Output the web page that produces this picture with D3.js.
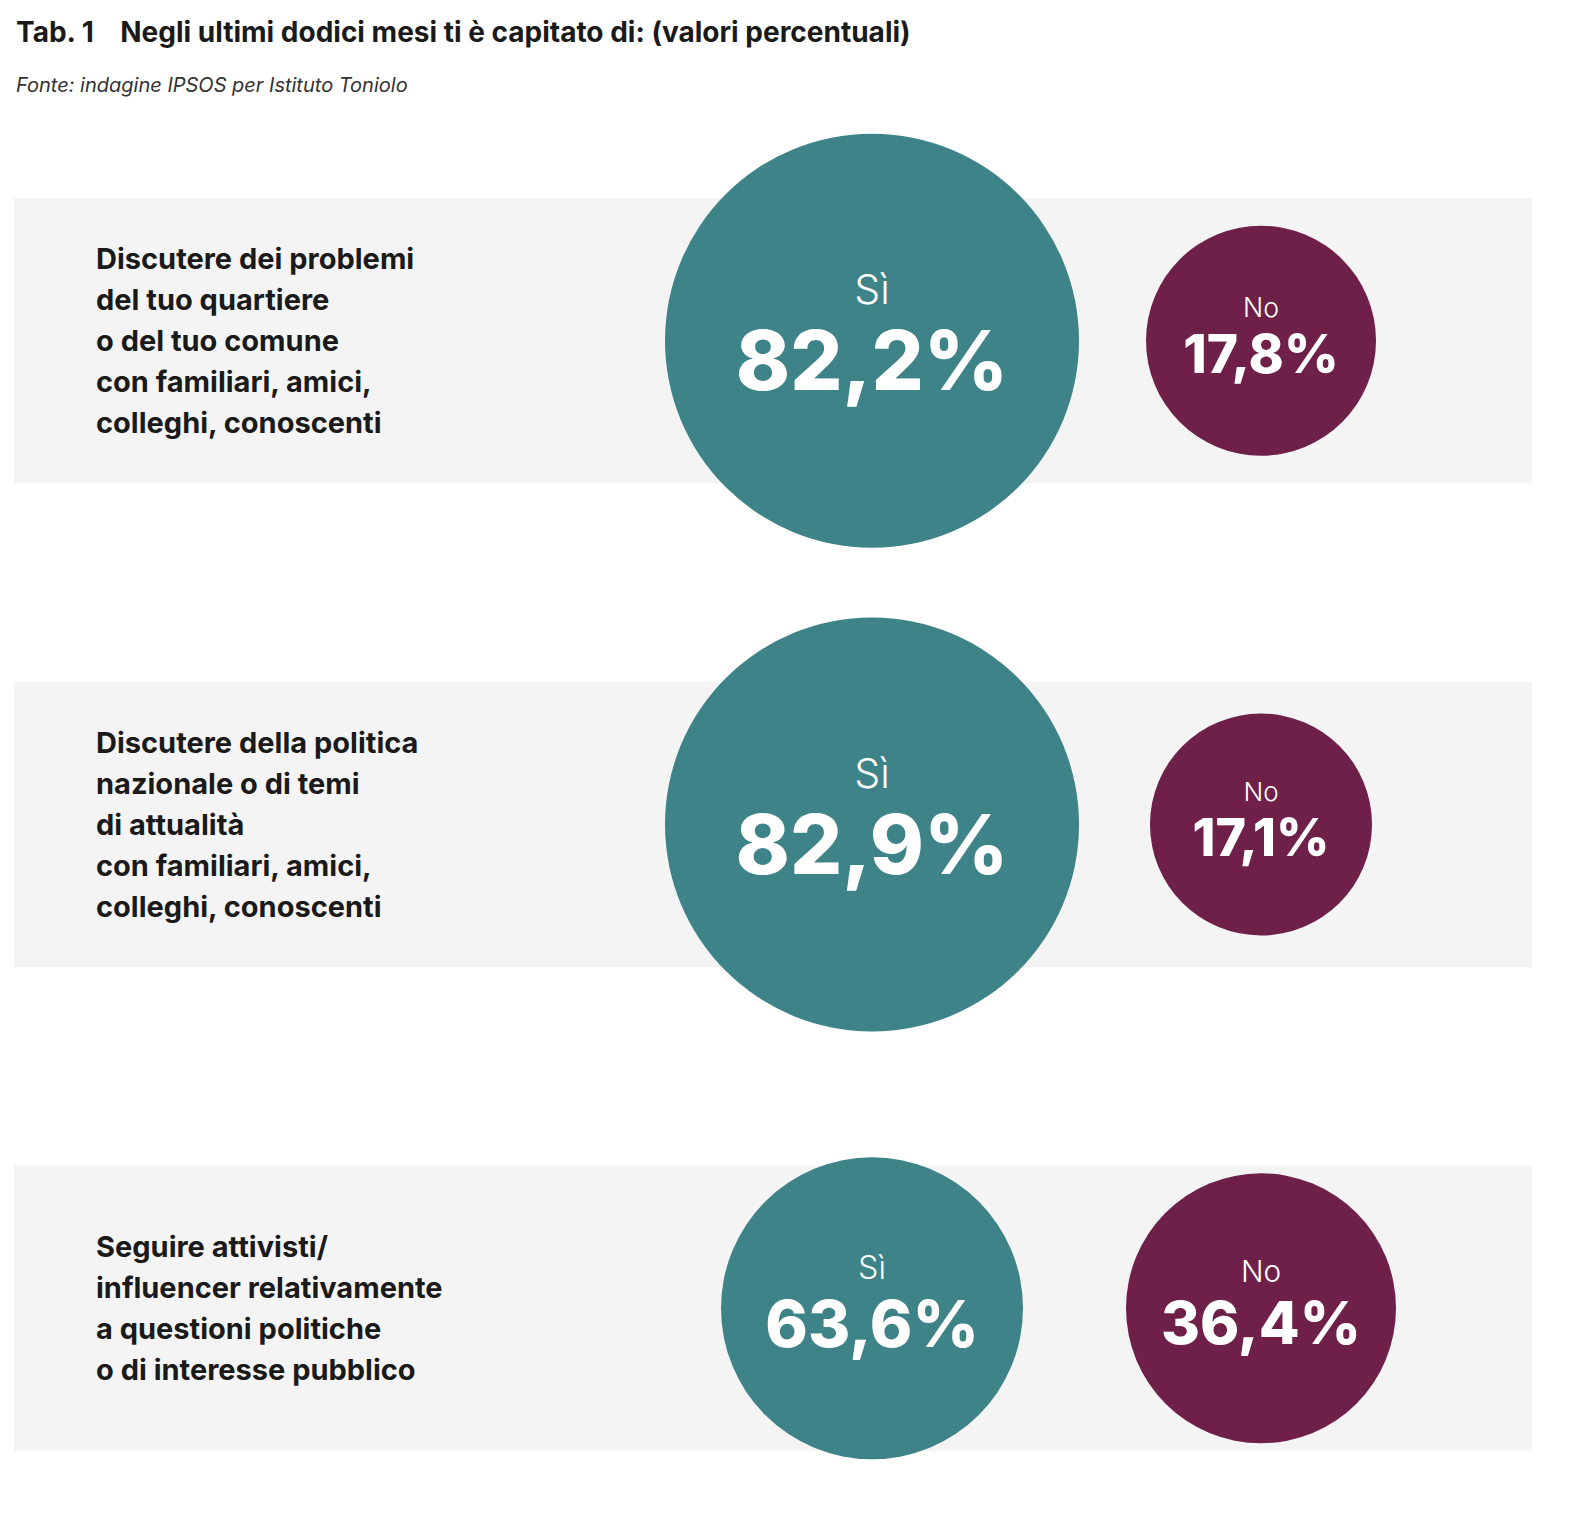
<!DOCTYPE html>
<html><head><meta charset="utf-8">
<script src="https://cdn.jsdelivr.net/npm/d3@7"></script>
<style>body{margin:0;background:#fff;font-family:Inter,"Open Sans",sans-serif}</style>
</head><body>
<svg id="chart" width="1584" height="1520"></svg>
<script>
var questions = [
  ["Discutere dei problemi", "del tuo quartiere", "o del tuo comune", "con familiari, amici,", "colleghi, conoscenti"],
  ["Discutere della politica", "nazionale o di temi", "di attualità", "con familiari, amici,", "colleghi, conoscenti"],
  ["Seguire attivisti/", "influencer relativamente", "a questioni politiche", "o di interesse pubblico"]
];
var siValues = [82.2, 82.9, 63.6];
var noValues = [17.8, 17.1, 36.4];

var svg = d3.select("#chart");
var fmt = function(v) { return v.toFixed(1).replace(".", ",") + "%" };

svg.append("text").attr("x", 16).attr("y", 42).attr("font-size", 28).attr("font-weight", 700)
  .attr("fill", "#1a1a1a").text("Tab. 1    Negli ultimi dodici mesi ti è capitato di: (valori percentuali)")
  .attr("xml:space", "preserve");
svg.append("text").attr("x", 16).attr("y", 92).attr("font-size", 20).attr("font-style", "italic")
  .attr("fill", "#333").text("Fonte: indagine IPSOS per Istituto Toniolo");

var y = d3.scaleBand().domain(d3.range(questions.length)).range([198, 1451]).paddingInner(0.41);
// circle size scale
var r = d3.scaleLinear().domain([17.1, 17.8, 36.4, 63.6, 82.2, 82.9]).range([111, 115, 135, 151, 207, 207]);
var fs = d3.scaleLinear().domain([111, 207]).range([52, 82]);

var g = svg.selectAll("g.row").data(questions).enter().append("g")
  .attr("transform", function(d, i) { return "translate(0," + (y(i) + y.bandwidth() / 2) + ")" });

g.append("rect").attr("x", 14).attr("width", 1518).attr("y", -y.bandwidth() / 2)
  .attr("height", y.bandwidth()).attr("fill", "#f4f4f4");

g.each(function(d) {
  var t = d3.select(this).append("text").attr("font-size", 29).attr("font-weight", 700).attr("fill", "#1a1a1a");
  var top = -(d.length - 1) * 41 / 2 + 10;
  d.forEach(function(line, k) {
    t.append("tspan").attr("x", 96).attr("y", top + k * 41).text(line);
  });
});

function bubble(sel, values, cx, color, label) {
  sel.each(function(d, i) {
    var v = values[i], rr = r(v), s = fs(rr);
    var gg = d3.select(this);
    gg.append("circle").attr("cx", cx).attr("r", rr).attr("fill", color);
    gg.append("text").attr("x", cx).attr("y", -s * 0.45).attr("text-anchor", "middle")
      .attr("font-size", s * 0.5).attr("font-weight", 300).attr("fill", "#fff").text(label);
    gg.append("text").attr("x", cx).attr("y", s * 0.6).attr("text-anchor", "middle")
      .attr("font-size", s).attr("font-weight", 800).attr("fill", "#fff").text(fmt(v));
  });
}
bubble(g, siValues, 872, "#3e8388", "Sì");
bubble(g, noValues, 1261, "#6e2049", "No");
</script>
</body></html>
